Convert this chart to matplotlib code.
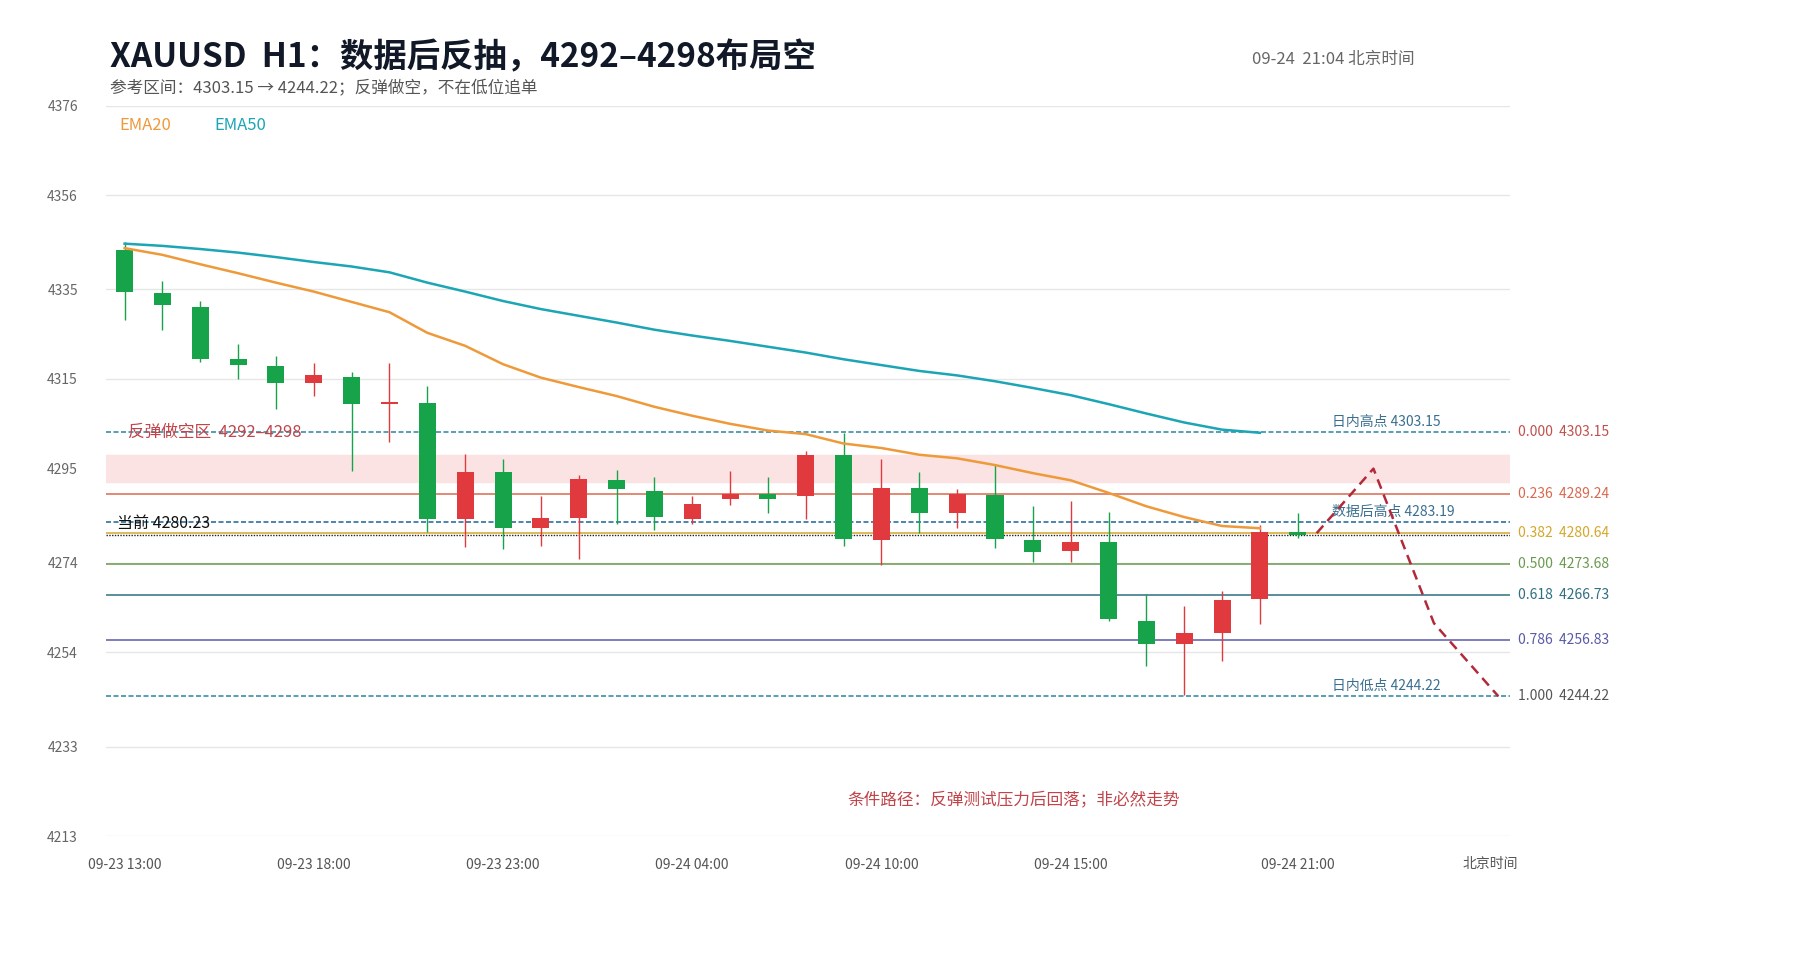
import matplotlib
matplotlib.use("Agg")
import matplotlib.pyplot as plt
import numpy as np

plt.rcParams['font.family'] = ['Noto Sans CJK SC', 'DejaVu Sans']

opens  = [4343.7,4334.2,4331.1,4319.4,4317.8,4314.2,4315.5,4309.4,4309.6,4283.7,4294.2,4281.7,4284.0,4292.4,4290.1,4283.7,
          4288.3,4289.4,4288.9,4298.1,4279.1,4290.6,4285.0,4289.1,4279.1,4276.6,4278.6,4260.9,4255.8,4258.4,4266.0,4280.9]
closes = [4334.5,4331.4,4319.4,4318.1,4314.0,4315.8,4309.4,4309.9,4283.7,4294.2,4281.7,4284.0,4292.7,4290.4,4284.2,4287.1,
          4289.4,4288.3,4298.1,4279.4,4290.6,4285.0,4289.4,4279.4,4276.3,4278.6,4261.4,4255.8,4258.4,4265.8,4280.9,4280.23]
highs  = [4345.5,4336.8,4332.4,4322.7,4320.1,4318.6,4316.5,4318.6,4313.5,4298.3,4297.1,4288.9,4293.5,4294.8,4293.2,4288.9,
          4294.5,4293.2,4298.9,4303.0,4297.1,4294.2,4290.4,4296.0,4286.6,4287.8,4285.3,4267.1,4264.3,4267.8,4282.5,4285.0]
lows   = [4328.1,4326.0,4318.8,4315.0,4308.3,4311.2,4294.5,4300.9,4280.9,4277.6,4277.1,4277.8,4274.8,4282.7,4281.2,4282.7,
          4286.8,4285.0,4283.7,4277.8,4273.5,4280.7,4281.7,4277.3,4274.2,4274.2,4260.9,4250.9,4244.5,4252.0,4260.4,4279.6]
ema20 = [4344.2,4342.7,4340.6,4338.6,4336.5,4334.5,4332.2,4329.9,4325.3,4322.4,4318.3,4315.3,4313.2,4311.2,4308.8,4306.8,
         4305.0,4303.5,4302.7,4300.6,4299.6,4298.1,4297.3,4295.8,4294.0,4292.4,4289.6,4286.6,4284.2,4282.2,4281.7]
ema50 = [4345.2,4344.7,4344.0,4343.2,4342.2,4341.1,4340.1,4338.8,4336.5,4334.5,4332.4,4330.6,4329.1,4327.6,4326.0,4324.7,
         4323.5,4322.2,4320.9,4319.4,4318.1,4316.8,4315.8,4314.5,4313.0,4311.4,4309.4,4307.3,4305.3,4303.7,4303.0]
tick_idx = [0, 5, 10, 15, 20, 25, 31]
tick_labels = ["09-23 13:00","09-23 18:00","09-23 23:00","09-24 04:00","09-24 10:00","09-24 15:00","09-24 21:00"]
path_x = [31.5, 33.0, 34.6, 36.3]
path_y = [4280.6, 4295.0, 4260.5, 4244.22]
fib_ratio = ["0.000","0.236","0.382","0.500","0.618","0.786","1.000"]
fib_val = [4303.15,4289.24,4280.64,4273.68,4266.73,4256.83,4244.22]
fib_col = ["#c0504d","#d9694e","#d4a72c","#6a9a50","#2f6f80","#5a5aa8","#555555"]
zone = (4292, 4298)
post_high = 4283.19
current = 4280.23
yticks = [4213,4233,4254,4274,4295,4315,4335,4356,4376]

fig = plt.figure(figsize=(18, 9.6), dpi=100)
ax = fig.add_axes([0.0587, 0.129, 0.78, 0.761])
ax.set_xlim(-0.5, 36.6)
ax.set_ylim(4213, 4376)
for s in ax.spines.values():
    s.set_visible(False)
ax.set_yticks(yticks)
ax.set_yticklabels([str(v) for v in yticks], color="#666666", fontsize=10)
ax.tick_params(axis='y', length=0, pad=20)
ax.tick_params(axis='x', length=0, pad=16)
ax.set_xticks(tick_idx)
ax.set_xticklabels(tick_labels, color="#555555", fontsize=10)
for v in yticks:
    ax.axhline(v, color="#e6e6e6", lw=1, zorder=0)

ax.axhspan(zone[0], zone[1], color="#fbe3e3", zorder=0.5)
for r, v, c in zip(fib_ratio, fib_val, fib_col):
    if r in ("0.000", "1.000"):
        ax.axhline(v, color="#3a8fa8", lw=1.2, ls=(0, (3, 1.5)), zorder=1)
    else:
        ax.axhline(v, color=c, lw=1.1, zorder=1)
    ax.text(1.006, v, f"{r}  {v:.2f}", transform=ax.get_yaxis_transform(), color=c,
            fontsize=10, va='center', ha='left')
ax.axhline(post_high, color="#2e6f9e", lw=1.2, ls=(0, (3, 1.5)), zorder=1)
ax.axhline(current, color="#222222", lw=1.0, ls=(0, (1, 1)), zorder=1)

up_c, dn_c = "#e0393e", "#17a34a"
for i, (o, c, h, l) in enumerate(zip(opens, closes, highs, lows)):
    col = up_c if c >= o else dn_c
    ax.vlines(i, l, h, color=col, lw=1, zorder=3)
    b = max(abs(c - o), 0.4)
    ax.bar(i, b, bottom=min(o, c), width=0.45, color=col, zorder=4)

ax.plot(range(len(ema20)), ema20, color="#ee9a3a", lw=1.8, zorder=5)
ax.plot(range(len(ema50)), ema50, color="#1ba5b5", lw=1.8, zorder=5)
ax.plot(path_x, path_y, color="#b22a3a", lw=1.8, ls=(0, (4, 2.5)), zorder=6)

ax.text(0.08, 4303.15, "反弹做空区  4292–4298", color="#c0444a", fontsize=12, va='center', ha='left', zorder=7)
ax.text(-0.2, current + 0.6, "当前 4280.23", color="#111111", fontsize=11.5, va='bottom', ha='left', zorder=7)
ax.text(31.9, 4303.15 + 0.8, "日内高点 4303.15", color="#3a6f8f", fontsize=10, va='bottom', ha='left')
ax.text(31.9, post_high + 0.5, "数据后高点 4283.19", color="#3a6f8f", fontsize=10, va='bottom', ha='left')
ax.text(31.9, 4244.22 + 0.8, "日内低点 4244.22", color="#3a6f8f", fontsize=10, va='bottom', ha='left')
ax.text(23.5, 4221, "条件路径：反弹测试压力后回落；非必然走势", color="#c0444a", fontsize=12, ha='center', va='center')
ax.text(0.55, 4371.5, "EMA20", color="#ee9a3a", fontsize=12, ha='center', va='center')
ax.text(3.06, 4371.5, "EMA50", color="#1ba5b5", fontsize=12, ha='center', va='center')
ax.text(36.1, 4213 - 4.6, "北京时间", color="#555555", fontsize=10, ha='center', va='top')

fig.text(0.061, 0.94, "XAUUSD  H1：数据后反抽，4292–4298布局空", fontsize=24, fontweight='bold',
         color="#111827", va='center', ha='left')
fig.text(0.061, 0.907, "参考区间：4303.15 → 4244.22；反弹做空，不在低位追单", fontsize=12,
         color="#555555", va='center', ha='left')
fig.text(0.786, 0.938, "09-24  21:04 北京时间", fontsize=12, color="#666666", va='center', ha='right')

fig.savefig("out.png", dpi=100, facecolor="white")
